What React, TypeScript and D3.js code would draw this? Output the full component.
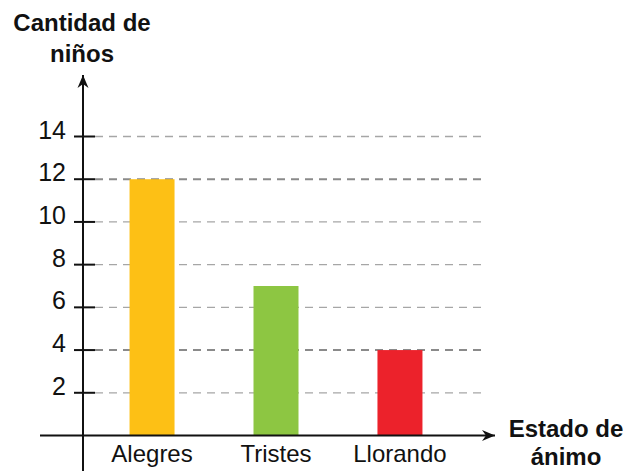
import React, { useEffect, useRef } from "react";
import * as d3 from "d3";

const categories = ["Alegres", "Tristes", "Llorando"];
const values = [12, 7, 4];
const colors = ["#fdc015", "#8dc642", "#ec222b"];
const yTicks = [2, 4, 6, 8, 10, 12, 14];

const App = () => {
  const ref = useRef<SVGSVGElement>(null);

  useEffect(() => {
    const svg = d3.select(ref.current);
    svg.selectAll("*").remove();

    const font = "'Liberation Sans', Arial, sans-serif";
    const axisX = 83;
    const axisY = 435.5;

    const y = d3.scaleLinear().domain([0, 14]).range([axisY, 136.5]);
    const x = d3
      .scaleBand<string>()
      .domain(categories)
      .range([90, 462])
      .paddingInner(0.637)
      .paddingOuter(0.319);

    // grid lines
    svg
      .append("g")
      .selectAll("line")
      .data(yTicks)
      .join("line")
      .attr("x1", 95)
      .attr("x2", 485)
      .attr("y1", (d) => y(d))
      .attr("y2", (d) => y(d))
      .attr("stroke", (d) => (values.includes(d) ? "#8a8a8a" : "#a6a6a6"))
      .attr("stroke-width", (d) => (values.includes(d) ? 2 : 1.3))
      .attr("stroke-dasharray", "8,6");

    // bars
    svg
      .append("g")
      .selectAll("rect")
      .data(values)
      .join("rect")
      .attr("x", (d, i) => x(categories[i])!)
      .attr("width", x.bandwidth())
      .attr("y", (d) => y(d))
      .attr("height", (d) => axisY - y(d))
      .attr("fill", (d, i) => colors[i]);

    // tick marks and labels
    const ticks = svg.append("g");
    ticks
      .selectAll("line")
      .data(yTicks)
      .join("line")
      .attr("x1", 74)
      .attr("x2", 95)
      .attr("y1", (d) => y(d))
      .attr("y2", (d) => y(d))
      .attr("stroke", "#111")
      .attr("stroke-width", 2);
    ticks
      .selectAll("text")
      .data(yTicks)
      .join("text")
      .attr("x", 66)
      .attr("y", (d) => y(d) + 2)
      .attr("text-anchor", "end")
      .attr("font-family", font)
      .attr("font-size", 25)
      .attr("fill", "#111")
      .text((d) => d);

    // axes with arrows
    svg
      .append("defs")
      .append("marker")
      .attr("id", "arrow")
      .attr("viewBox", "-13 -7 14 14")
      .attr("refX", 0)
      .attr("refY", 0)
      .attr("markerWidth", 14)
      .attr("markerHeight", 14)
      .attr("markerUnits", "userSpaceOnUse")
      .attr("orient", "auto")
      .append("path")
      .attr("d", "M0,0 L-13,-5.5 L-9,0 L-13,5.5 Z")
      .attr("fill", "#111");

    svg
      .append("line")
      .attr("x1", axisX)
      .attr("x2", axisX)
      .attr("y1", 471)
      .attr("y2", 75)
      .attr("stroke", "#111")
      .attr("stroke-width", 2)
      .attr("marker-end", "url(#arrow)");
    svg
      .append("line")
      .attr("x1", 40)
      .attr("x2", 495)
      .attr("y1", axisY)
      .attr("y2", axisY)
      .attr("stroke", "#111")
      .attr("stroke-width", 2)
      .attr("marker-end", "url(#arrow)");

    // category labels
    svg
      .append("g")
      .selectAll("text")
      .data(categories)
      .join("text")
      .attr("x", (d) => x(d)! + x.bandwidth() / 2)
      .attr("y", 462)
      .attr("text-anchor", "middle")
      .attr("font-family", font)
      .attr("font-size", 24)
      .attr("fill", "#111")
      .text((d) => d);

    // axis titles
    const title = (lines: string[], cx: number, y0: number, gap: number) => {
      const t = svg
        .append("text")
        .attr("text-anchor", "middle")
        .attr("font-family", font)
        .attr("font-weight", "bold")
        .attr("font-size", 24)
        .attr("fill", "#111");
      lines.forEach((l, i) => {
        t.append("tspan").attr("x", cx).attr("y", y0 + i * gap).text(l);
      });
    };
    title(["Cantidad de", "niños"], 82, 31, 31);
    title(["Estado de", "ánimo"], 566, 437, 28);
  }, []);

  return <svg ref={ref} width={627} height={471} style={{ position: "absolute", left: 0, top: 0 }} />;
};

export default App;
